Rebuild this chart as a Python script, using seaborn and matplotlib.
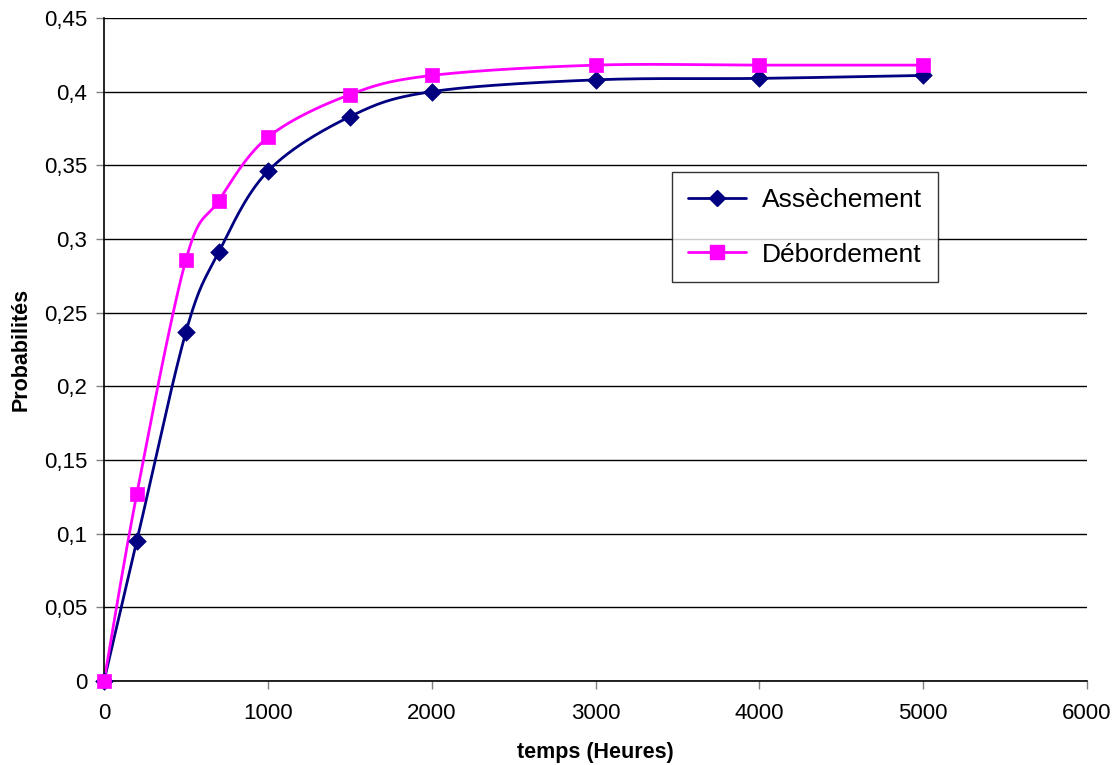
import numpy as np
import pandas as pd
import matplotlib
matplotlib.use("Agg")
import matplotlib.pyplot as plt
from matplotlib.ticker import FuncFormatter, MultipleLocator
from matplotlib.lines import Line2D
import seaborn as sns

temps = [0, 200, 500, 700, 1000, 1500, 2000, 3000, 4000, 5000]
assechement = [0, 0.095, 0.237, 0.291, 0.346, 0.383, 0.400, 0.408, 0.409, 0.411]
debordement = [0, 0.127, 0.286, 0.326, 0.369, 0.398, 0.411, 0.418, 0.418, 0.418]
series_names = ["Assèchement", "Débordement"]
series_colors = ["#000080", "#FF00FF"]
series_markers = ["D", "s"]


def smooth(x, y, n=30):
    """Excel-like smoothed line (Catmull-Rom Bezier) through the data points."""
    x = np.asarray(x, float)
    y = np.asarray(y, float)
    xs, ys = [], []
    m = len(x)
    for i in range(m - 1):
        p0 = np.array([x[max(i - 1, 0)], y[max(i - 1, 0)]])
        p1 = np.array([x[i], y[i]])
        p2 = np.array([x[i + 1], y[i + 1]])
        p3 = np.array([x[min(i + 2, m - 1)], y[min(i + 2, m - 1)]])
        c1 = p1 + (p2 - p0) / 6.0
        c2 = p2 - (p3 - p1) / 6.0
        t = np.linspace(0, 1, n)[:, None]
        pts = ((1 - t) ** 3) * p1 + 3 * ((1 - t) ** 2) * t * c1 + 3 * (1 - t) * t ** 2 * c2 + t ** 3 * p2
        xs.extend(pts[:, 0])
        ys.extend(pts[:, 1])
    return np.array(xs), np.array(ys)


sns.set_style("white")
plt.rcParams["font.family"] = ["Liberation Sans", "DejaVu Sans"]
plt.rcParams["text.color"] = "black"
plt.rcParams["axes.labelcolor"] = "black"
plt.rcParams["xtick.color"] = "black"
plt.rcParams["ytick.color"] = "black"

fig = plt.figure(figsize=(11.14, 7.65), dpi=100)
ax = fig.add_axes([0.0934, 0.1098, 0.8824, 0.8667])

handles = []
for vals, name, col, mk in zip([assechement, debordement], series_names, series_colors, series_markers):
    sx, sy = smooth(temps, vals)
    sns.lineplot(x=sx, y=sy, ax=ax, color=col, linewidth=2, sort=False, estimator=None)
    sns.scatterplot(x=temps, y=vals, ax=ax, color=col, marker=mk,
                    s=110 if mk == "s" else 80, edgecolor=col, linewidth=0.5, zorder=5,
                    clip_on=False)
    handles.append(Line2D([], [], color=col, marker=mk, linewidth=2,
                          markersize=10 if mk == "s" else 8.5, markeredgecolor=col))

ax.set_xlim(0, 6000)
ax.set_ylim(0, 0.45)
ax.xaxis.set_major_locator(MultipleLocator(1000))
ax.yaxis.set_major_locator(MultipleLocator(0.05))
ax.yaxis.set_major_formatter(FuncFormatter(lambda v, p: ("%g" % round(v, 2)).replace(".", ",")))
ax.grid(axis="y", color="black", linewidth=1)
ax.set_axisbelow(True)
for s in ["top", "right"]:
    ax.spines[s].set_visible(False)
for s in ["left", "bottom"]:
    ax.spines[s].set_color("black")
    ax.spines[s].set_linewidth(1.2)
ax.tick_params(axis="both", direction="out", length=6, width=1, color="gray",
               labelsize=16, labelcolor="black", left=True, bottom=True)
ax.tick_params(axis="x", pad=10)
ax.tick_params(axis="y", pad=6)

ax.set_xlabel("temps (Heures)", fontsize=15.5, fontweight="bold", labelpad=13)
ax.set_ylabel("Probabilités", fontsize=15.5, fontweight="bold", labelpad=9)

leg = ax.legend(handles, series_names, loc="upper left", bbox_to_anchor=(0.578, 0.767),
                fontsize=19, frameon=True, fancybox=False, edgecolor="black",
                handlelength=2.2, borderpad=0.6, labelspacing=1.15, handletextpad=0.6,
                borderaxespad=0)
leg.get_frame().set_linewidth(1)

fig.savefig("out.png", dpi=100)
